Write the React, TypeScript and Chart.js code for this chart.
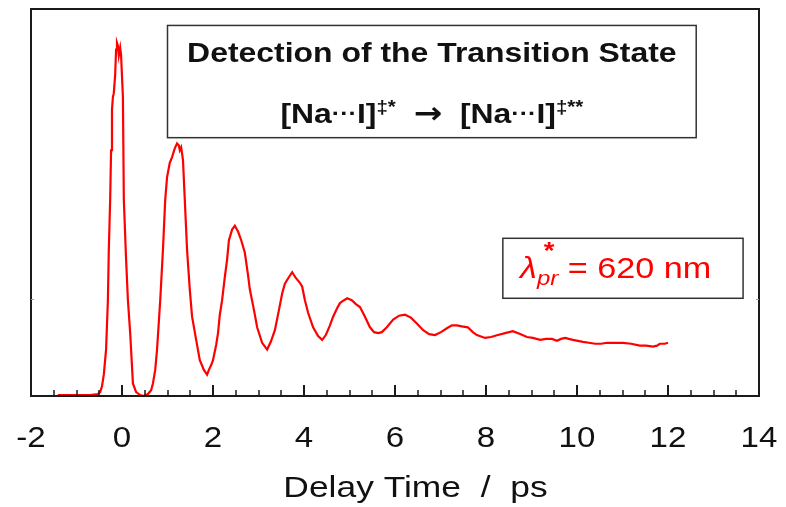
import React, { useEffect, useRef } from "react";
import { Chart, registerables } from "chart.js";

Chart.register(...registerables);

// ---- data (delay time in ps, signal in arbitrary units) ----
const TIME_PS = [
  -1.41, -1.14, -0.92, -0.70, -0.53, -0.48, -0.44, -0.40, -0.35, -0.31,
  -0.29, -0.26, -0.24, -0.22, -0.20, -0.18, -0.15, -0.13, -0.11, -0.09,
  -0.07, -0.04, -0.02, 0.02, 0.04, 0.09, 0.13, 0.18, 0.24, 0.31,
  0.40, 0.48, 0.57, 0.64, 0.68, 0.73, 0.77, 0.84, 0.90, 0.95,
  0.99, 1.05, 1.10, 1.16, 1.21, 1.25, 1.27, 1.30, 1.34, 1.38,
  1.43, 1.49, 1.54, 1.63, 1.71, 1.80, 1.87, 1.91, 1.96, 2.00,
  2.07, 2.11, 2.15, 2.20, 2.26, 2.31, 2.35, 2.42, 2.48, 2.55,
  2.62, 2.70, 2.77, 2.81, 2.90, 2.97, 3.08, 3.19, 3.27, 3.36,
  3.45, 3.52, 3.58, 3.67, 3.74, 3.82, 3.91, 3.96, 4.02, 4.09,
  4.20, 4.31, 4.40, 4.48, 4.57, 4.64, 4.73, 4.79, 4.88, 4.95,
  5.05, 5.14, 5.23, 5.34, 5.45, 5.54, 5.63, 5.71, 5.82, 5.96,
  6.09, 6.22, 6.35, 6.48, 6.62, 6.75, 6.88, 7.01, 7.14, 7.25,
  7.36, 7.47, 7.60, 7.71, 7.80, 7.98, 8.11, 8.26, 8.42, 8.59,
  8.75, 8.90, 9.03, 9.19, 9.32, 9.45, 9.56, 9.65, 9.74, 9.82,
  9.91, 10.02, 10.13, 10.26, 10.40, 10.53, 10.66, 10.84, 11.01, 11.19,
  11.38, 11.52, 11.67, 11.76, 11.82, 11.93, 12.00,
];

const SIGNAL = [
  0.01, 0.01, 0.01, 0.01, 0.02, 0.04, 0.10, 0.22, 0.48, 0.99,
  1.51, 2.03, 2.54, 2.96, 3.09, 3.13, 3.32, 3.58, 3.65, 3.62,
  3.52, 3.60, 3.52, 3.09, 2.03, 1.41, 0.99, 0.65, 0.13, 0.04,
  0.01, 0.00, 0.02, 0.06, 0.13, 0.27, 0.48, 0.99, 1.51, 2.03,
  2.26, 2.41, 2.47, 2.56, 2.61, 2.59, 2.54, 2.57, 2.44, 2.03,
  1.51, 1.10, 0.82, 0.58, 0.37, 0.27, 0.22, 0.27, 0.32, 0.37,
  0.53, 0.65, 0.84, 0.99, 1.23, 1.41, 1.61, 1.72, 1.76, 1.70,
  1.61, 1.48, 1.25, 1.10, 0.89, 0.71, 0.55, 0.48, 0.56, 0.68,
  0.89, 1.06, 1.16, 1.23, 1.28, 1.22, 1.17, 1.13, 0.99, 0.86,
  0.71, 0.62, 0.58, 0.63, 0.73, 0.82, 0.91, 0.96, 0.99, 1.01,
  0.99, 0.95, 0.92, 0.82, 0.71, 0.66, 0.65, 0.66, 0.71, 0.79,
  0.83, 0.84, 0.81, 0.75, 0.68, 0.64, 0.63, 0.66, 0.70, 0.73,
  0.73, 0.72, 0.71, 0.66, 0.63, 0.60, 0.61, 0.63, 0.65, 0.67,
  0.64, 0.61, 0.60, 0.58, 0.59, 0.59, 0.57, 0.59, 0.60, 0.59,
  0.58, 0.57, 0.56, 0.55, 0.54, 0.54, 0.55, 0.55, 0.55, 0.54,
  0.52, 0.52, 0.51, 0.52, 0.54, 0.54, 0.55,
];

const X_MIN = -2;
const X_MAX = 14;
const Y_MIN = 0;
const Y_MAX = 4;
const X_MAJOR_TICKS = [-2, 0, 2, 4, 6, 8, 10, 12, 14];
const X_TICK_LABELS = ["-2", "0", "2", "4", "6", "8", "10", "12", "14"];
const X_MINOR_STEP = 0.5;
const Y_TICKS = [1];
const X_TITLE = "Delay Time  /  ps";
const BOX_TITLE = "Detection of the Transition State";

const FONT = '"Liberation Sans", Arial, Helvetica, sans-serif';
const SX = 1.14; // horizontal stretch of the lettering

type Seg = { text: string; font: string; color?: string; dy?: number; over?: boolean; dx?: number };

function drawRich(
  ctx: CanvasRenderingContext2D,
  segs: Seg[],
  cx: number,
  baseY: number,
  color: string,
  sx: number = SX
) {
  let x = 0;
  let prevStart = 0;
  let maxX = 0;
  const pos: number[] = [];
  for (const s of segs) {
    ctx.font = s.font;
    const w = ctx.measureText(s.text).width;
    if (s.over) {
      const p = prevStart + (s.dx || 0);
      pos.push(p);
      maxX = Math.max(maxX, p + w);
    } else {
      pos.push(x + (s.dx || 0));
      prevStart = x + (s.dx || 0);
      x += w + (s.dx || 0);
      maxX = Math.max(maxX, x);
    }
  }
  ctx.save();
  ctx.translate(cx, baseY);
  ctx.scale(sx, 1);
  ctx.textAlign = "left";
  ctx.textBaseline = "alphabetic";
  segs.forEach((s, i) => {
    ctx.font = s.font;
    ctx.fillStyle = s.color || color;
    ctx.fillText(s.text, pos[i] - maxX / 2, s.dy || 0);
  });
  ctx.restore();
}

const decorPlugin = {
  id: "decor",
  afterDatasetsDraw(chart: any) {
    const ctx: CanvasRenderingContext2D = chart.ctx;
    const xs = chart.scales.x;
    const ys = chart.scales.y;
    const { left, right, top, bottom } = chart.chartArea;

    ctx.save();
    // frame
    ctx.strokeStyle = "#1a1a1a";
    ctx.lineWidth = 2;
    ctx.strokeRect(left, top, right - left, bottom - top);

    // x ticks (inward)
    for (let v = X_MIN; v <= X_MAX + 1e-9; v += X_MINOR_STEP) {
      const px = Math.round(xs.getPixelForValue(v));
      const major = Math.abs(v / 2 - Math.round(v / 2)) < 1e-6;
      ctx.lineWidth = major ? 2 : 1.5;
      ctx.beginPath();
      ctx.moveTo(px, bottom);
      ctx.lineTo(px, bottom - (major ? 11 : 6));
      ctx.stroke();
    }
    // faint y ticks
    ctx.strokeStyle = "#9a9a9a";
    ctx.lineWidth = 1;
    for (const v of Y_TICKS) {
      const py = Math.round(ys.getPixelForValue(v)) + 0.5;
      ctx.beginPath();
      ctx.moveTo(left, py);
      ctx.lineTo(left + 3, py);
      ctx.moveTo(right, py);
      ctx.lineTo(right - 3, py);
      ctx.stroke();
    }

    // tick labels
    X_MAJOR_TICKS.forEach((v, i) => {
      drawRich(ctx, [{ text: X_TICK_LABELS[i], font: `29px ${FONT}` }], xs.getPixelForValue(v), bottom + 51, "#111");
    });
    // axis title
    drawRich(ctx, [{ text: X_TITLE, font: `30px ${FONT}` }], xs.getPixelForValue(6.45), bottom + 101, "#111", 1.18);

    // box 1
    const b1l = xs.getPixelForValue(1.0), b1r = xs.getPixelForValue(12.62);
    const b1t = ys.getPixelForValue(3.83), b1b = ys.getPixelForValue(2.67);
    ctx.fillStyle = "#fff";
    ctx.fillRect(b1l, b1t, b1r - b1l, b1b - b1t);
    ctx.strokeStyle = "#333";
    ctx.lineWidth = 1.5;
    ctx.strokeRect(b1l, b1t, b1r - b1l, b1b - b1t);
    const c1 = (b1l + b1r) / 2;
    drawRich(ctx, [{ text: BOX_TITLE, font: `bold 28px ${FONT}` }], c1, ys.getPixelForValue(3.45), "#111");
    const big = `bold 28px ${FONT}`;
    const dots = `bold 22px ${FONT}`;
    const sup = `bold 18px ${FONT}`;
    const arrow = `bold 30px "DejaVu Sans", ${FONT}`;
    drawRich(
      ctx,
      [
        { text: "[Na", font: big },
        { text: "\u00B7\u00B7\u00B7", font: dots, dy: -2 },
        { text: "I]", font: big },
        { text: "\u2021*", font: sup, dy: -10 },
        { text: "  ", font: big },
        { text: "\u2192", font: arrow },
        { text: "  ", font: big },
        { text: "[Na", font: big },
        { text: "\u00B7\u00B7\u00B7", font: dots, dy: -2 },
        { text: "I]", font: big },
        { text: "\u2021**", font: sup, dy: -10 },
      ],
      c1,
      ys.getPixelForValue(2.82),
      "#111"
    );

    // box 2
    const b2l = xs.getPixelForValue(8.37), b2r = xs.getPixelForValue(13.65);
    const b2t = ys.getPixelForValue(1.63), b2b = ys.getPixelForValue(1.01);
    ctx.fillStyle = "#fff";
    ctx.fillRect(b2l, b2t, b2r - b2l, b2b - b2t);
    ctx.strokeStyle = "#333";
    ctx.lineWidth = 1.5;
    ctx.strokeRect(b2l, b2t, b2r - b2l, b2b - b2t);
    drawRich(
      ctx,
      [
        { text: "\u03BB", font: `italic 30px ${FONT}` },
        { text: "pr", font: `italic 21px ${FONT}`, dy: 7 },
        { text: "*", font: `bold 24px ${FONT}`, dy: -19, over: true, dx: 6 },
        { text: " = 620 nm", font: `30px ${FONT}` },
      ],
      xs.getPixelForValue(10.85),
      ys.getPixelForValue(1.22),
      "#ff0000"
    );
    ctx.restore();
  },
};

export default function App() {
  const ref = useRef<HTMLCanvasElement | null>(null);
  useEffect(() => {
    if (!ref.current) return;
    const chart = new Chart(ref.current, {
      type: "line",
      data: {
        datasets: [
          {
            data: TIME_PS.map((t, i) => ({ x: t, y: SIGNAL[i] })),
            borderColor: "#ff0000",
            borderWidth: 2.2,
            pointRadius: 0,
            tension: 0,
            fill: false,
            clip: 4,
          } as any,
        ],
      },
      options: {
        animation: false,
        responsive: true,
        maintainAspectRatio: false,
        devicePixelRatio: 1,
        layout: { padding: { left: 31, right: 27, top: 9, bottom: 111 } },
        scales: {
          x: { type: "linear", min: X_MIN, max: X_MAX, display: false },
          y: { type: "linear", min: Y_MIN, max: Y_MAX, display: false },
        },
        plugins: { legend: { display: false }, tooltip: { enabled: false } },
      },
      plugins: [decorPlugin],
    });
    return () => chart.destroy();
  }, []);
  return (
    <div style={{ position: "fixed", left: 0, top: 0, width: 786, height: 507, background: "#fff" }}>
      <canvas ref={ref} />
    </div>
  );
}
